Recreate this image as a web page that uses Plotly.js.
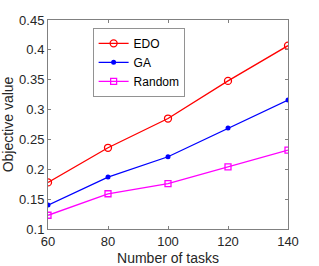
<!DOCTYPE html>
<html><head><meta charset="utf-8">
<script src="https://cdn.plot.ly/plotly-3.0.1.min.js"></script>
<style>html,body{margin:0;padding:0;background:#fff}#c{width:319px;height:266px}</style>
</head><body><div id="c"></div>
<script>
const tasks = [60, 80, 100, 120, 140];
const edo = [0.178, 0.236, 0.285, 0.348, 0.407];
const ga = [0.140, 0.187, 0.221, 0.269, 0.316];
const rnd = [0.123, 0.159, 0.176, 0.204, 0.232];
const xTicks = [60, 80, 100, 120, 140];
const yTicks = [0.1, 0.15, 0.2, 0.25, 0.3, 0.35, 0.4, 0.45];
const yTickText = ['0.1', '0.15', '0.2', '0.25', '0.3', '0.35', '0.4', '0.45'];

const traces = [
  {x: tasks, y: edo, name: 'EDO', mode: 'lines+markers', line: {color: '#ff0000', width: 1.3},
   marker: {symbol: 'circle-open', size: 7, color: '#ff0000', line: {width: 1.3}}},
  {x: tasks, y: ga, name: 'GA', mode: 'lines+markers', line: {color: '#0000ff', width: 1.3},
   marker: {symbol: 'circle', size: 5, color: '#0000ff'}},
  {x: tasks, y: rnd, name: 'Random', mode: 'lines+markers', line: {color: '#ff00ff', width: 1.3},
   marker: {symbol: 'square-open', size: 6, color: '#ff00ff', line: {width: 1.3}}}
];
const axFont = {family: 'Liberation Sans, Arial, sans-serif', size: 13, color: '#262626'};
const titleFont = {family: 'Liberation Sans, Arial, sans-serif', size: 14, color: '#262626'};
const layout = {
  width: 319, height: 266,
  margin: {l: 48, r: 31, t: 20, b: 37},
  paper_bgcolor: '#fff', plot_bgcolor: '#fff',
  showlegend: true,
  legend: {x: 0.188, y: 0.96, xanchor: 'left', yanchor: 'top', bgcolor: '#fff',
           bordercolor: '#262626', borderwidth: 0.5,
           font: {family: 'Liberation Sans, Arial, sans-serif', size: 12, color: '#000'},
           tracegroupgap: 0, itemwidth: 30},
  xaxis: {range: [60, 140], tickvals: xTicks, ticks: 'inside', ticklen: 3, tickcolor: '#808080',
          showline: true, linecolor: '#808080', linewidth: 1, mirror: 'ticks', showgrid: false, zeroline: false,
          tickfont: axFont, title: {text: 'Number of tasks', font: titleFont, standoff: 5}},
  yaxis: {range: [0.1, 0.45], tickvals: yTicks, ticktext: yTickText, ticks: 'inside', ticklen: 3, tickcolor: '#808080',
          showline: true, linecolor: '#808080', linewidth: 1, mirror: 'ticks', showgrid: false, zeroline: false,
          tickfont: axFont, title: {text: 'Objective value', font: titleFont, standoff: 4}}
};
Plotly.newPlot('c', traces, layout, {displayModeBar: false, staticPlot: true});
</script></body></html>
